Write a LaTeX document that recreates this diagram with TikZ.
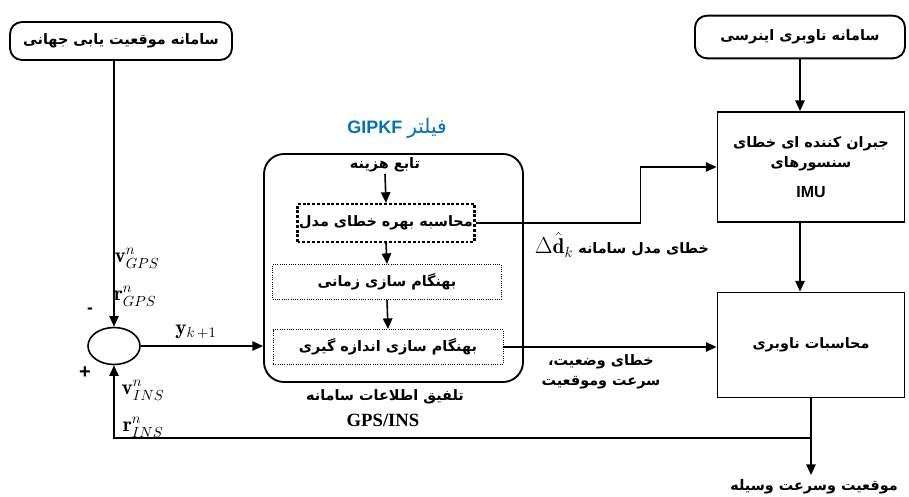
\documentclass[tikz,border=0pt]{standalone}
\usepackage{fontspec}
\newfontfamily\fa[Script=Arabic]{DejaVu Sans}
\newfontfamily\arial{Liberation Sans}
\newfontfamily\tms{Liberation Serif}
\TeXXeTstate=1
\usetikzlibrary{arrows.meta,shapes.geometric}
\definecolor{titleblue}{RGB}{0,112,192}
\newcommand{\mathsz}{\fontsize{16}{18}\selectfont}

\begin{document}
\begin{tikzpicture}[x=0.75pt,y=-0.75pt,
	every node/.style={font=\fa\bfseries\fontsize{10.8}{15}\selectfont},
	rbox/.style={draw,line width=1.4pt,rounded corners=9pt,inner sep=0pt},
	sbox/.style={draw,line width=1.4pt,inner sep=0pt},
	gainbox/.style={draw,line width=1.6pt,dash pattern=on 2.2pt off 1.4pt,inner sep=0pt},
	updbox/.style={draw,line width=0.7pt,densely dotted,inner sep=0pt},
	mlabel/.style={font=\mathsz,inner sep=0.5pt},
	arr/.style={line width=1.2pt,-{Triangle[length=8pt,width=7pt]}},
	lnk/.style={line width=1.2pt}]
	\useasboundingbox (0,0) rectangle (909,496);
	% outer blocks
	\node[rbox,minimum width=166.5pt,minimum height=28.5pt] (gps) at (121,41) {\beginR سامانه موقعیت یابی جهانی\endR};
	\node[rbox,minimum width=157.5pt,minimum height=32pt] (ins) at (800,37) {\beginR سامانه ناوبری اینرسی\endR};
	\node[sbox,minimum width=140.25pt,minimum height=82.5pt,align=center] (imu) at (811,167)
		{\beginR جبران کننده ای خطای\endR\\\beginR سنسورهای\endR\\[7pt]{\arial\bfseries\fontsize{12}{14}\selectfont IMU}};
	\node[sbox,minimum width=140.25pt,minimum height=78.75pt] (nav) at (811,345) {\beginR محاسبات ناوبری\endR};
	\node[draw,line width=1.2pt,ellipse,minimum width=39pt,minimum height=27.75pt,inner sep=0pt] (sum) at (114,346) {};
	% filter
	\node[draw,line width=1.4pt,rounded corners=15pt,minimum width=194.25pt,minimum height=171pt] (filt) at (393.5,268) {};
	\node[text=titleblue] (ftitle) at (397,128) {\beginR{\fa\mdseries\fontsize{15}{17}\selectfont فیلتر} {\arial\bfseries\fontsize{13.5}{15}\selectfont GIPKF}\endR};
	\node[inner sep=1pt] (cost) at (385,165) {\beginR تابع هزینه\endR};
	\node[gainbox,minimum width=132.75pt,minimum height=28.5pt] (gain) at (386,223) {\beginR محاسبه بهره خطای مدل\endR};
	\node[updbox,minimum width=171.75pt,minimum height=26.25pt] (tupd) at (387,282) {\beginR بهنگام سازی زمانی\endR};
	\node[updbox,minimum width=172.5pt,minimum height=26.25pt] (mupd) at (388,347) {\beginR بهنگام سازی اندازه گیری\endR};
	\node (fcap) at (385,397) {\beginR تلفیق اطلاعات سامانه\endR};
	\node[font=\tms\bfseries\fontsize{14}{16}\selectfont] (fcap2) at (383,420) {GPS/INS};
	% labels
	\node[mlabel] (vgps) at (137,258) {$\mathbf{v}^n_{GPS}$};
	\node[mlabel] (rgps) at (135,296) {$\mathbf{r}^n_{GPS}$};
	\node[font=\arial\bfseries\fontsize{13}{15}\selectfont,inner sep=0.5pt] (minus) at (90,311) {-};
	\node[font=\arial\bfseries\fontsize{15}{17}\selectfont,inner sep=0.5pt] (plus) at (85,373) {+};
	\node[mlabel] (vins) at (143,390) {$\mathbf{v}^n_{INS}$};
	\node[mlabel] (rins) at (143,427) {$\mathbf{r}^n_{INS}$};
	\node[mlabel] (yk) at (196,332) {$\mathbf{y}_{k\,+1}$};
	\node (derr) at (622,245) {\beginR خطای مدل سامانه \beginL{\mathsz$\Delta\hat{\mathbf{d}}_k$}\endL\endR};
	\node[align=center] (serr) at (601,372) {\beginR خطای وضعیت،\endR\\\beginR سرعت وموقعیت\endR};
	\node (vel) at (814,487) {\beginR موقعیت وسرعت وسیله\endR};
	% connectors
	\draw[arr] (gps.south -| sum.north) -- (sum.north);
	\draw[arr] (sum.east) -- (sum.east -| filt.west);
	\draw[arr] (cost.south) -- (gain.north);
	\draw[arr] (gain.south) -- (tupd.north);
	\draw[arr] (tupd.south) -- (mupd.north);
	\draw[arr] (gain.east) -- ++(165,0) |- (imu.west);
	\draw[arr] (mupd.east) -- (mupd.east -| nav.west);
	\draw[arr] (ins.south) -- (ins.south |- imu.north);
	\draw[arr] (imu.south -| ins.south) -- (nav.north -| ins.south);
	\draw[arr] (nav.south) -- (nav.south |- vel.north);
	\coordinate (tap) at (nav.south |- 0,438);
	\draw[arr] (tap) -| (sum.south);
\end{tikzpicture}
\end{document}
